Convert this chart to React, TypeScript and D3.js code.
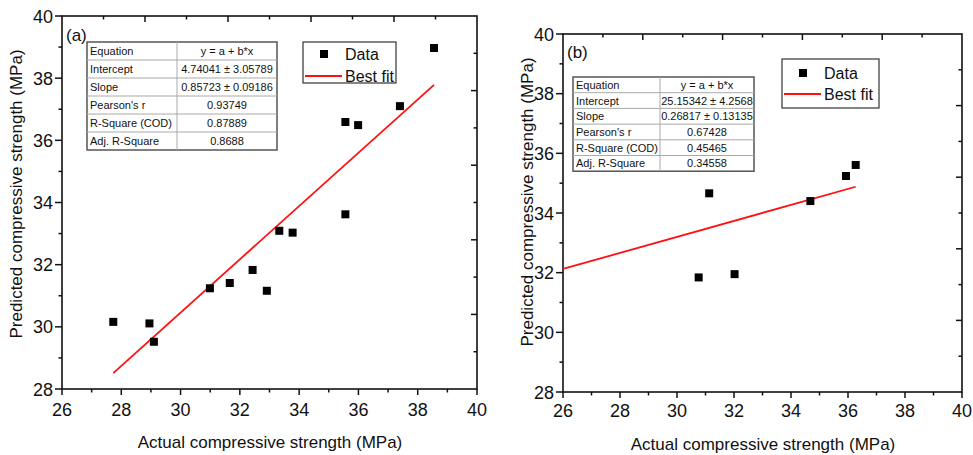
import React from "react";
import * as d3 from "d3";

// ---------- data ----------
const xTicks = [26, 28, 30, 32, 34, 36, 38, 40];
const yTicks = [28, 30, 32, 34, 36, 38, 40];

const actualA = [27.73, 28.95, 29.1, 30.99, 31.66, 32.43, 32.91, 33.33, 33.78, 35.56, 35.56, 35.99, 37.4, 38.55];
const predictedA = [30.16, 30.11, 29.52, 31.24, 31.41, 31.83, 31.16, 33.09, 33.03, 33.62, 36.59, 36.49, 37.1, 38.97];

const actualB = [30.76, 31.13, 32.02, 34.68, 35.93, 36.27];
const predictedB = [31.84, 34.66, 31.95, 34.4, 35.24, 35.61];

const tableLabels = ["Equation", "Intercept", "Slope", "Pearson's r", "R-Square (COD)", "Adj. R-Square"];
const tableValuesA = ["y = a + b*x", "4.74041 ± 3.05789", "0.85723 ± 0.09186", "0.93749", "0.87889", "0.8688"];
const tableValuesB = ["y = a + b*x", "25.15342 ± 4.2568", "0.26817 ± 0.13135", "0.67428", "0.45465", "0.34558"];

const interceptA = 4.74041, slopeA = 0.85723;
const interceptB = 25.15342, slopeB = 0.26817;

const xLabel = "Actual compressive strength (MPa)";
const yLabel = "Predicted compressive strength (MPa)";
const legendItems = ["Data", "Best fit"];

const FONT = "'Liberation Sans', Arial, Helvetica, sans-serif";

type Box = { x0: number; x1: number; y0: number; y1: number };

function Panel(props: {
  frame: Box;
  xs: number[];
  ys: number[];
  intercept: number;
  slope: number;
  lineFrom: number;
  lineTo: number;
  tag: string;
  tagPos: [number, number];
  table: { x: number; y: number; w: number; col: number; rowH: number; values: string[] };
  legend: { x: number; y: number; w: number; h: number; dataY: number; lineY: number };
  yLabelPos: [number, number];
  xLabelPos: [number, number];
  xTickBase: number;
}) {
  const { frame: f } = props;
  const x = d3.scaleLinear().domain([26, 40]).range([f.x0, f.x1]);
  const y = d3.scaleLinear().domain([28, 40]).range([f.y1, f.y0]);
  const minorX = d3.range(27, 40, 2);
  const minorY = d3.range(29, 40, 2);
  // secondary (top / right) axes: 10 divisions, inward ticks
  const sec = d3.range(1, 10);
  const topS = d3.scaleLinear().domain([0, 10]).range([f.x0, f.x1]);
  const rightS = d3.scaleLinear().domain([0, 10]).range([f.y0, f.y1]);
  const line = d3.line<number>().x((d) => x(d)).y((d) => y(props.intercept + props.slope * d));
  const t = props.table;
  const L = props.legend;
  return (
    <g fontFamily={FONT}>
      {/* frame */}
      <rect x={f.x0} y={f.y0} width={f.x1 - f.x0} height={f.y1 - f.y0} fill="none" stroke="#111" strokeWidth={1.6} />
      {/* bottom ticks */}
      {xTicks.map((v) => (
        <g key={"xt" + v}>
          <line x1={x(v)} x2={x(v)} y1={f.y1} y2={f.y1 + 6} stroke="#111" strokeWidth={1.5} />
          <text x={x(v)} y={props.xTickBase} textAnchor="middle" fontSize={18} fill="#111">{v}</text>
        </g>
      ))}
      {minorX.map((v) => (
        <line key={"xm" + v} x1={x(v)} x2={x(v)} y1={f.y1} y2={f.y1 + 3.5} stroke="#111" strokeWidth={1.5} />
      ))}
      {/* left ticks */}
      {yTicks.map((v) => (
        <g key={"yt" + v}>
          <line x1={f.x0 - 7} x2={f.x0} y1={y(v)} y2={y(v)} stroke="#111" strokeWidth={1.5} />
          <text x={f.x0 - 9} y={y(v) + 6.5} textAnchor="end" fontSize={18} fill="#111">{v}</text>
        </g>
      ))}
      {minorY.map((v) => (
        <line key={"ym" + v} x1={f.x0 - 3.5} x2={f.x0} y1={y(v)} y2={y(v)} stroke="#111" strokeWidth={1.5} />
      ))}
      {/* top & right inward ticks */}
      {sec.map((k) => (
        <g key={"s" + k}>
          <line x1={topS(k)} x2={topS(k)} y1={f.y0} y2={f.y0 + (k % 2 === 0 ? 6 : 3.5)} stroke="#111" strokeWidth={1.5} />
          <line x1={f.x1 - (k % 2 === 0 ? 6 : 3.5)} x2={f.x1} y1={rightS(k)} y2={rightS(k)} stroke="#111" strokeWidth={1.5} />
        </g>
      ))}
      {/* axis titles */}
      <text x={props.xLabelPos[0]} y={props.xLabelPos[1]} textAnchor="middle" fontSize={17} fill="#111">{xLabel}</text>
      <text transform={`translate(${props.yLabelPos[0]},${props.yLabelPos[1]}) rotate(-90)`} textAnchor="middle" dy="0.35em" fontSize={17} fill="#111">{yLabel}</text>
      {/* fit line */}
      <path d={line([props.lineFrom, props.lineTo]) || ""} stroke="#ff1010" strokeWidth={1.8} fill="none" />
      {/* points */}
      {props.xs.map((v, i) => (
        <rect key={"p" + i} x={x(v) - 4} y={y(props.ys[i]) - 4} width={8} height={8} fill="#000" />
      ))}
      {/* tag */}
      <text x={props.tagPos[0]} y={props.tagPos[1]} fontSize={17} fill="#111">{props.tag}</text>
      {/* table */}
      <g fontSize={11} fill="#111">
        <rect x={t.x} y={t.y} width={t.w} height={t.rowH * 6} fill="#fff" stroke="#555" strokeWidth={1.5} />
        {d3.range(1, 6).map((r) => (
          <line key={"tr" + r} x1={t.x} x2={t.x + t.w} y1={t.y + r * t.rowH} y2={t.y + r * t.rowH} stroke="#aaa" strokeWidth={1} />
        ))}
        <line x1={t.col} x2={t.col} y1={t.y} y2={t.y + t.rowH * 6} stroke="#aaa" strokeWidth={1} />
        {tableLabels.map((lab, r) => (
          <text key={"tl" + r} x={t.x + 3} y={t.y + r * t.rowH + t.rowH / 2 + 4}>{lab}</text>
        ))}
        {t.values.map((val, r) => (
          <text key={"tv" + r} x={(t.col + t.x + t.w) / 2} y={t.y + r * t.rowH + t.rowH / 2 + 4} textAnchor="middle">{val}</text>
        ))}
      </g>
      {/* legend */}
      <g>
        <rect x={L.x} y={L.y} width={L.w} height={L.h} fill="#fff" stroke="#333" strokeWidth={1.2} />
        <rect x={L.x + 17} y={L.dataY - 4} width={8} height={8} fill="#000" />
        <text x={L.x + 42} y={L.dataY + 6} fontSize={16} fill="#111">{legendItems[0]}</text>
        <line x1={L.x + 2} x2={L.x + 39} y1={L.lineY} y2={L.lineY} stroke="#ff1010" strokeWidth={1.8} />
        <text x={L.x + 42} y={L.lineY + 6} fontSize={16} fill="#111">{legendItems[1]}</text>
      </g>
    </g>
  );
}

export default function App() {
  return (
    <svg width={973} height={455} style={{ position: "absolute", left: 0, top: 0, background: "#fff" }}>
      <rect width={973} height={455} fill="#fff" />
      <Panel
        frame={{ x0: 62, x1: 477, y0: 16, y1: 389 }}
        xs={actualA}
        ys={predictedA}
        intercept={interceptA}
        slope={slopeA}
        lineFrom={d3.min(actualA) as number}
        lineTo={d3.max(actualA) as number}
        tag="(a)"
        tagPos={[66, 41]}
        table={{ x: 87, y: 42, w: 190, col: 177, rowH: 18, values: tableValuesA }}
        legend={{ x: 303, y: 42, w: 93, h: 41, dataY: 54, lineY: 76 }}
        yLabelPos={[16, 194]}
        xLabelPos={[270, 448]}
        xTickBase={416}
      />
      <Panel
        frame={{ x0: 563, x1: 962, y0: 34, y1: 392 }}
        xs={actualB}
        ys={predictedB}
        intercept={interceptB}
        slope={slopeB}
        lineFrom={26}
        lineTo={d3.max(actualB) as number}
        tag="(b)"
        tagPos={[567, 58]}
        table={{ x: 573, y: 77, w: 181, col: 660, rowH: 15.7, values: tableValuesB }}
        legend={{ x: 782, y: 59, w: 97, h: 49, dataY: 73, lineY: 94 }}
        yLabelPos={[527, 202]}
        xLabelPos={[763, 450]}
        xTickBase={417}
      />
    </svg>
  );
}
